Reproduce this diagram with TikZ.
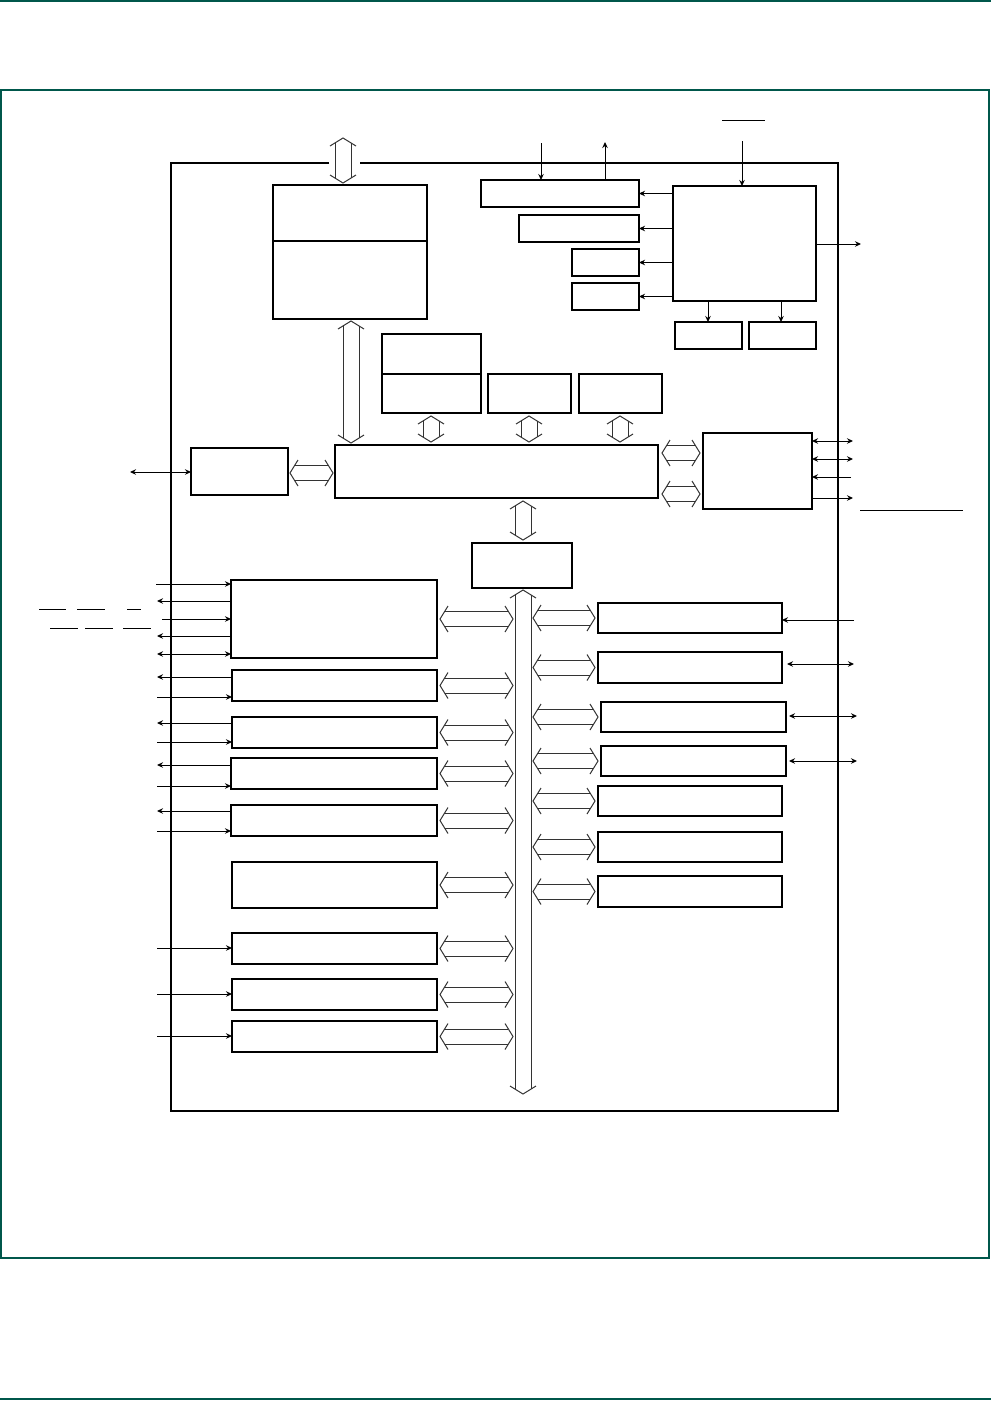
\documentclass[tikz,border=0pt]{standalone}
\usetikzlibrary{calc,arrows.meta}
\definecolor{frameg}{HTML}{00574B}
\definecolor{hollowc}{HTML}{333333}
\tikzset{
  box/.style={draw=black,line width=2pt,inner sep=0pt,outer sep=0pt,anchor=north west},
  chipline/.style={draw=black,line width=2.3pt},
  arr/.style={line width=1pt,-{Stealth[length=6pt,width=5.5pt]}},
  darr/.style={line width=1pt,{Stealth[length=6pt,width=5.5pt]}-{Stealth[length=6pt,width=5.5pt]}},
  hollow/.style={draw=hollowc,line width=1pt},
  bar/.style={line width=0.9pt},
}
% box: name, left x, top y, width, height
\newcommand\bx[5]{\node[box,minimum width=#4pt,minimum height=#5pt] (#1) at (#2,#3) {};}
% horizontal hollow double arrow, left tip #1, right tip #2
\newcommand\hda[2]{%
  \path #1 coordinate (ta) #2 coordinate (tb);
  \draw[hollow] ($(ta)+(8,-13)$) -- (ta) -- ($(ta)+(8,13)$);
  \draw[hollow] ($(tb)+(-8,-13)$) -- (tb) -- ($(tb)+(-8,13)$);
  \draw[hollow] ($(ta)+(4.6,-7.5)$) -- ($(tb)+(-4.6,-7.5)$);
  \draw[hollow] ($(ta)+(4.6,7.5)$) -- ($(tb)+(-4.6,7.5)$);
}
% vertical hollow double arrow, top tip #1, bottom tip #2
\newcommand\vda[2]{%
  \path #1 coordinate (ta) #2 coordinate (tb);
  \draw[hollow] ($(ta)+(-13,8)$) -- (ta) -- ($(ta)+(13,8)$);
  \draw[hollow] ($(tb)+(-13,-8)$) -- (tb) -- ($(tb)+(13,-8)$);
  \draw[hollow] ($(ta)+(-8,4.9)$) -- ($(tb)+(-8,-4.9)$);
  \draw[hollow] ($(ta)+(8,4.9)$) -- ($(tb)+(8,-4.9)$);
}
\begin{document}
\begin{tikzpicture}[x=1pt,y=-1pt]
\useasboundingbox (0,0) rectangle (991,1401);
% page frame
\draw[frameg,line width=1.6pt] (0,1) -- (991,1);
\draw[frameg,line width=1.2pt] (1,90) rectangle (989,1258);
\draw[frameg,line width=1.6pt] (0,1399) -- (991,1399);

% chip boundary (gap for top bus)
\draw[chipline] (329,163) -- (171,163) -- (171,1111) -- (838,1111) -- (838,163) -- (360,163);

% boxes
\bx{mem}{273}{185}{154}{134}
\draw[line width=2pt] (mem.west |- 0,241) -- (mem.east |- 0,241);
\bx{A}{481}{180}{158}{27}
\bx{B}{519}{215}{120}{27}
\bx{C}{572}{249}{67}{27}
\bx{D}{572}{283}{67}{27}
\bx{E}{673}{186}{143}{115}
\bx{F}{675}{322}{67}{27}
\bx{G}{749}{322}{67}{27}
\bx{H}{382}{334}{99}{79}
\draw[line width=2pt] (H.west |- 0,374) -- (H.east |- 0,374);
\bx{I}{488}{374}{83}{39}
\bx{J}{579}{374}{83}{39}
\bx{K}{335}{445}{323}{53}
\bx{L}{191}{448}{97}{47}
\bx{M}{703}{433}{109}{76}
\bx{N}{472}{543}{100}{45}
\bx{P1}{231}{580}{206}{78}
\bx{P2}{232}{670}{205}{31}
\bx{P3}{232}{717}{205}{31}
\bx{P4}{231}{758}{206}{31}
\bx{P5}{231}{805}{206}{31}
\bx{P6}{232}{862}{205}{46}
\bx{P7}{232}{933}{205}{31}
\bx{P8}{232}{979}{205}{31}
\bx{P9}{232}{1021}{205}{31}
\bx{R1}{598}{603}{184}{30}
\bx{R2}{598}{652}{184}{31}
\bx{R3}{601}{702}{185}{30}
\bx{R4}{601}{746}{185}{30}
\bx{R5}{598}{786}{184}{30}
\bx{R6}{598}{832}{184}{30}
\bx{R7}{598}{876}{184}{31}

% bus reference coordinates
\coordinate (busL) at (513,0);
\coordinate (busR) at (533,0);

% hollow buses
\vda{(343,138)}{($(mem.north -| 343,0)+(0,-2)$)}
\vda{($(mem.south -| 351,0)+(0,2)$)}{($(K.north -| 351,0)+(0,-2)$)}
\vda{($(H.south -| 431,0)+(0,3)$)}{($(K.north -| 431,0)+(0,-3)$)}
\vda{($(I.south -| 529,0)+(0,3)$)}{($(K.north -| 529,0)+(0,-3)$)}
\vda{($(J.south -| 620,0)+(0,3)$)}{($(K.north -| 620,0)+(0,-3)$)}
\hda{($(L.east |- 0,473)+(2,0)$)}{($(K.west |- 0,473)+(-2,0)$)}
\hda{($(K.east |- 0,453)+(4,0)$)}{($(M.west |- 0,453)+(-3,0)$)}
\hda{($(K.east |- 0,494)+(4,0)$)}{($(M.west |- 0,494)+(-3,0)$)}
\vda{($(K.south -| 523,0)+(0,3)$)}{($(N.north -| 523,0)+(0,-3)$)}
% main vertical bus
\vda{($(N.south -| 523,0)+(0,2)$)}{(523,1094)}
% left peripherals to bus
\foreach \p in {P1,P2,P3,P4,P5,P6,P7,P8,P9}{
  \hda{($(\p.east)+(3,0)$)}{(busL |- \p.east)}
}
% bus to right peripherals
\foreach \p in {R1,R2,R3,R4,R5,R6,R7}{
  \hda{(busR |- \p.west)}{($(\p.west)+(-3,0)$)}
}

% top signals
\draw[arr] (541,143) -- (A.north -| 541,0);
\draw[arr] (A.north -| 605,0) -- (605,142);
\draw[arr] (742,141) -- (E.north -| 742,0);
\draw[bar] (722,120) -- (765,120);
% E to A-D
\foreach \b in {A,B,C,D}{ \draw[arr] (E.west |- \b.east) -- (\b.east); }
\draw[arr] (E.east |- 0,244) -- (861,244);
\draw[arr] (E.south -| 708,0) -- (F.north -| 708,0);
\draw[arr] (E.south -| 781,0) -- (G.north -| 781,0);

% L external
\draw[darr] (130,472) -- (L.west |- 0,472);

% M external
\draw[darr] (M.east |- 0,441) -- (853,441);
\draw[darr] (M.east |- 0,459) -- (853,459);
\draw[arr] (851,477) -- (M.east |- 0,477);
\draw[arr] (M.east |- 0,498) -- (853,498);
\draw[bar] (860,510) -- (963,510);

% P1 external
\draw[arr] (156,584) -- (P1.west |- 0,584);
\draw[arr] (P1.west |- 0,601) -- (157,601);
\draw[arr] (162,619) -- (P1.west |- 0,619);
\draw[arr] (P1.west |- 0,636) -- (157,636);
\draw[darr] (157,654) -- (P1.west |- 0,654);
\draw[bar] (39,609) -- (66,609);
\draw[bar] (77,609) -- (105,609);
\draw[bar] (127,609) -- (141,609);
\draw[bar] (50,628) -- (78,628);
\draw[bar] (85,628) -- (113,628);
\draw[bar] (123,628) -- (151,628);

% other left externals
\draw[arr] (P2.west |- 0,677) -- (157,677);
\draw[arr] (157,697) -- (P2.west |- 0,697);
\draw[arr] (P3.west |- 0,723) -- (157,723);
\draw[arr] (157,742) -- (P3.west |- 0,742);
\draw[arr] (P4.west |- 0,765) -- (157,765);
\draw[arr] (157,786) -- (P4.west |- 0,786);
\draw[arr] (P5.west |- 0,811) -- (157,811);
\draw[arr] (157,831) -- (P5.west |- 0,831);
\draw[arr] (157,948) -- (P7.west |- 0,948);
\draw[arr] (157,994) -- (P8.west |- 0,994);
\draw[arr] (157,1036) -- (P9.west |- 0,1036);

% right externals
\draw[arr] (854,620) -- (R1.east |- 0,620);
\draw[darr] ($(R2.east |- 0,664)+(5,0)$) -- (854,664);
\draw[darr] ($(R3.east |- 0,716)+(3,0)$) -- (857,716);
\draw[darr] ($(R4.east |- 0,761)+(3,0)$) -- (857,761);
\end{tikzpicture}
\end{document}
